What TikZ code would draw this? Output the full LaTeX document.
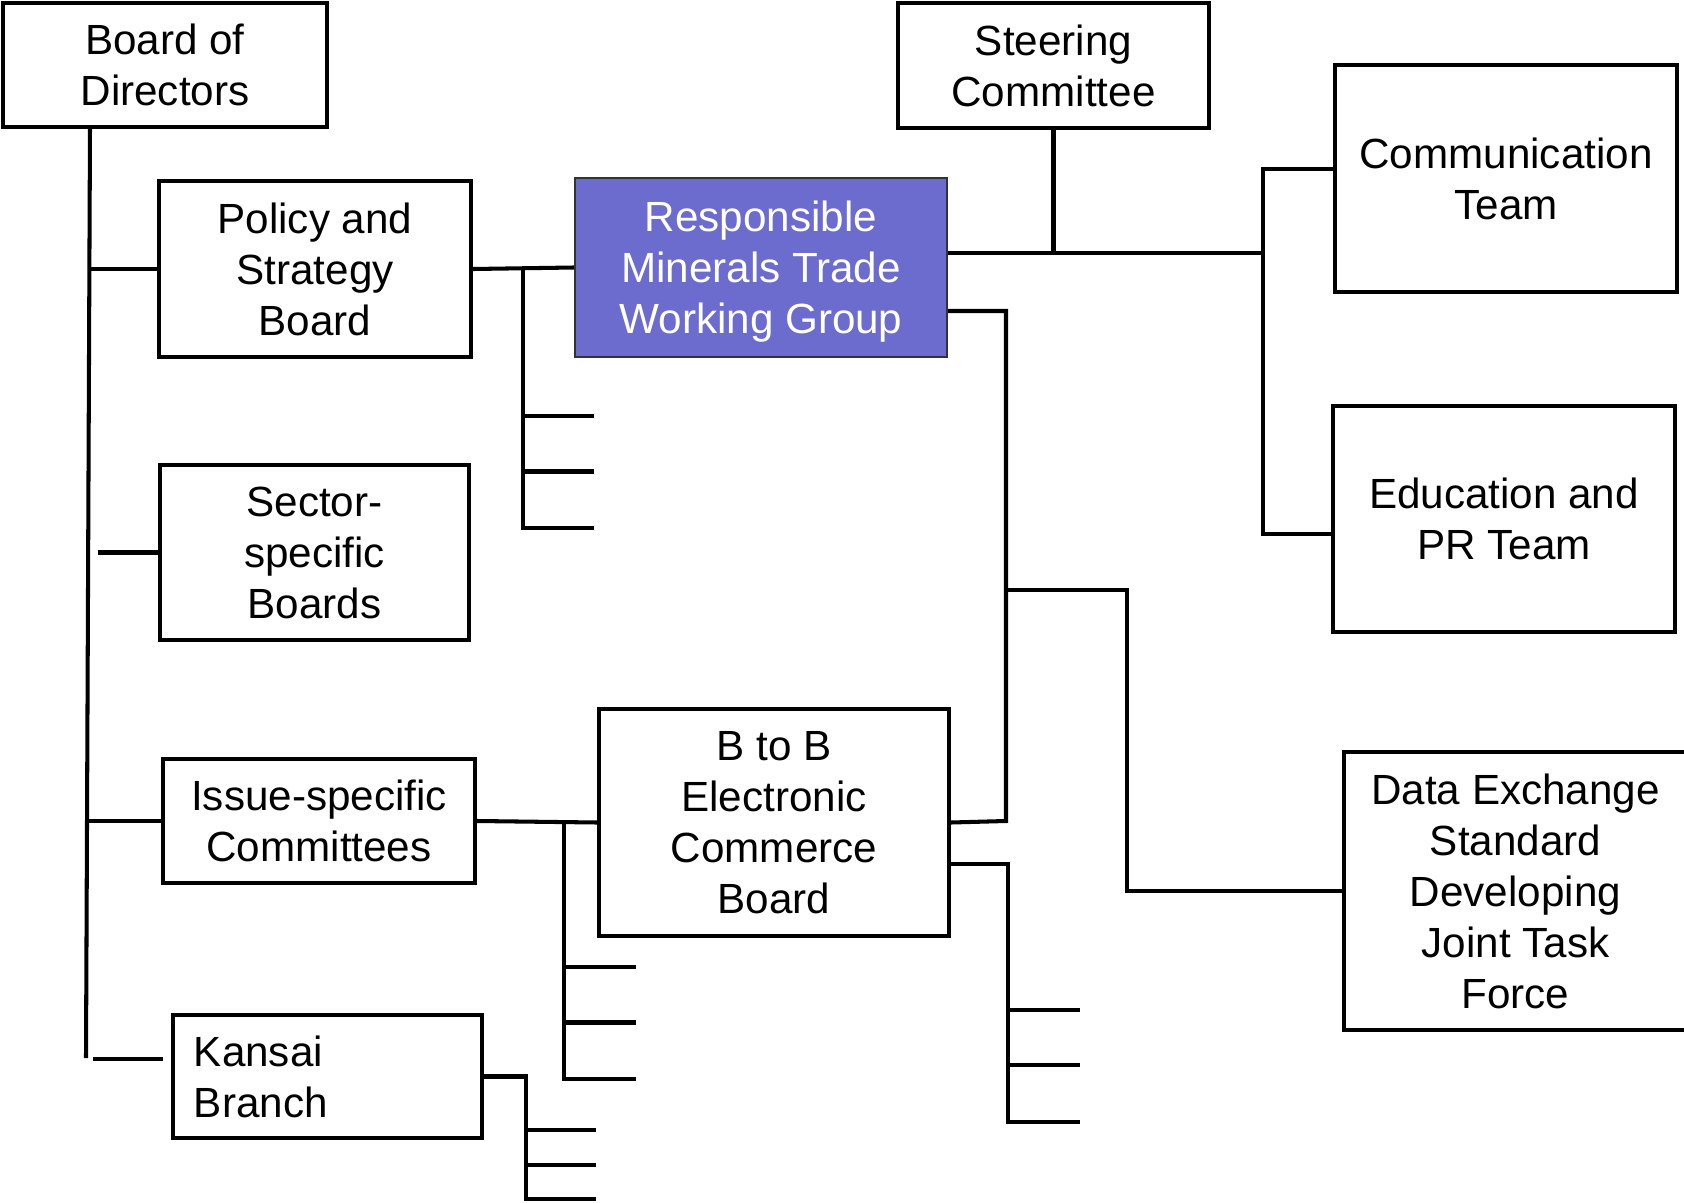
\documentclass[tikz,border=0pt]{standalone}
\usepackage{fontspec}
\setmainfont{Liberation Sans}
\begin{document}
\begin{tikzpicture}[x=0.01cm,y=-0.01cm,
  box/.style={draw, line width=1.15pt, inner sep=0pt, align=center,
    font=\fontsize{12}{14.5}\selectfont},
  ln/.style={line width=1.15pt},
  hl/.style={box, fill={rgb,255:red,107;green,108;blue,206}, draw=black!80,
    line width=0.6pt, text=white, text depth=0pt}]
\useasboundingbox (0,0) rectangle (1684,1203);

% boxes
\node[box, minimum width=3.24cm, minimum height=1.24cm] (bod) at (165,65) {Board of\\Directors};
\node[box, minimum width=3.11cm, minimum height=1.25cm] (steer) at (1053.5,65.5) {Steering\\Committee};
\node[box, minimum width=3.12cm, minimum height=1.76cm] (policy) at (315,269) {Policy and\\Strategy\\Board};
\node[hl, minimum width=3.72cm, minimum height=1.79cm] (rm) at (761,267.5) {Responsible\\Minerals Trade\\Working Group};
\node[box, minimum width=3.09cm, minimum height=1.75cm] (sector) at (314.5,552.5) {Sector-\\specific\\Boards};
\node[box, minimum width=3.12cm, minimum height=1.24cm] (issue) at (319,821) {Issue-specific\\Committees};
\node[box, minimum width=3.09cm, minimum height=1.23cm, align=left, text width=2.67cm] (kansai) at (327.5,1076.5) {Kansai\\Branch};
\node[box, minimum width=3.50cm, minimum height=2.27cm] (b2b) at (774,822.5) {B to B\\Electronic\\Commerce\\Board};
\node[box, minimum width=3.42cm, minimum height=2.27cm] (comm) at (1506,178.5) {Communication\\Team};
\node[box, minimum width=3.42cm, minimum height=2.26cm] (edu) at (1504,519) {Education and\\PR Team};
\node[box, minimum width=3.43cm, minimum height=2.78cm] (data) at (1515.5,891) {Data Exchange\\Standard\\Developing\\Joint Task\\Force};

% board of directors trunk
\coordinate (tTop) at (90,127);
\coordinate (tBot) at (86,1058);
\draw[ln] (tTop) -- (tBot);
\draw[ln] (89.4,269) -- (policy.west);
\coordinate (sS) at (97.7,552.5);
\draw[ln] (sS) -- (sector.west);
\draw[ln] (87,821) -- (issue.west);
\coordinate (kS1) at (93,1059);
\coordinate (kS2) at (163,1059);
\draw[ln] (kS1) -- (kS2);

% policy -> working group, with stubs
\draw[ln] (policy.east) -- (rm.west);
\coordinate (pv) at (523,269);
\draw[ln] (pv) -- (523,528) -- (594,528);
\draw[ln] (523,416) -- (594,416);
\draw[ln] (523,471.5) -- (594,471.5);

% working group -> steering / teams
\coordinate (rmA) at (rm.east |- 0,253);
\coordinate (brTop) at (1263,168.6);
\coordinate (brBot) at (1263,534);
\draw[ln] (rmA) -- (1261,253);
\draw[ln] (steer.south) -- (1053.5,253);
\draw[ln] (brTop -| comm.west) -- (brTop) -- (brBot) -- (brBot -| edu.west);

% working group -> B2B and data exchange
\coordinate (rmB) at (rm.east |- 0,311);
\draw[ln] (rmB) -- (1006,311) -- (1006,821) -- (b2b.east);
\draw[ln] (1006,590) -- (1127,590) -- (1127,891) -- (data.west);

% issue-specific -> B2B, with stubs
\draw[ln] (issue.east) -- (b2b.west);
\draw[ln] (564,822) -- (564,1079) -- (636,1079);
\draw[ln] (564,966.7) -- (636,966.7);
\draw[ln] (564,1022.5) -- (636,1022.5);

% B2B lower right stubs
\coordinate (bB) at (b2b.east |- 0,864);
\draw[ln] (bB) -- (1008,864) -- (1008,1122) -- (1080,1122);
\draw[ln] (1008,1010) -- (1080,1010);
\draw[ln] (1008,1065) -- (1080,1065);

% Kansai stubs
\draw[ln] (kansai.east) -- (526,1076.5) -- (526,1199) -- (596,1199);
\draw[ln] (526,1130) -- (596,1130);
\draw[ln] (526,1165) -- (596,1165);
\end{tikzpicture}
\end{document}
